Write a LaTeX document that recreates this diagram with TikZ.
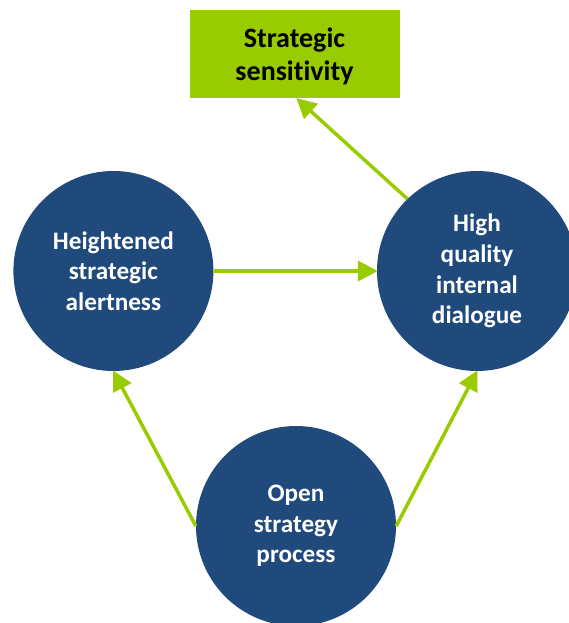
\documentclass[tikz,border=0pt]{standalone}
\usepackage{fontspec}
\setmainfont{Carlito}[Ligatures=NoCommon]
\usetikzlibrary{arrows.meta}
\definecolor{navy}{RGB}{32,73,124}
\definecolor{lime}{RGB}{153,204,0}
\tikzset{
  bubble/.style={circle, fill=navy, minimum size=200pt, inner sep=0pt, text=white, align=center,
    font=\fontsize{25.2}{30.6}\selectfont\bfseries},
  goalbox/.style={rectangle, fill=lime, minimum width=210pt, minimum height=88.5pt, inner sep=0pt, align=center,
    font=\fontsize{28}{33}\selectfont\bfseries, text=black},
  link/.style={draw=lime, line width=3.5pt, -{Triangle[length=20pt,width=20pt]}, shorten >=-1pt}
}
\begin{document}
\begin{tikzpicture}[x=1pt,y=-1pt]
\useasboundingbox (0,0) rectangle (569,623);
\clip (0,0) rectangle (569,623);
\node[goalbox] (goal) at (294.5,54.2) {\strut Strategic\\sensitivity};
\node[bubble] (left) at (113.4,271) {Heightened\\strategic\\alertness};
\node[bubble] (right) at (477,271) {High\\quality\\internal\\dialogue};
\node[bubble] (bottom) at (296,526) {Open\\strategy\\process};
\coordinate (goaltip) at ([xshift=2.5pt]goal.south);
\draw[link] (left.east) -- (right.west);
\draw[link] (right.134) -- (goaltip);
\draw[link] (bottom.west) -- (left.south);
\draw[link] (bottom.east) -- (right.south);
\end{tikzpicture}
\end{document}
